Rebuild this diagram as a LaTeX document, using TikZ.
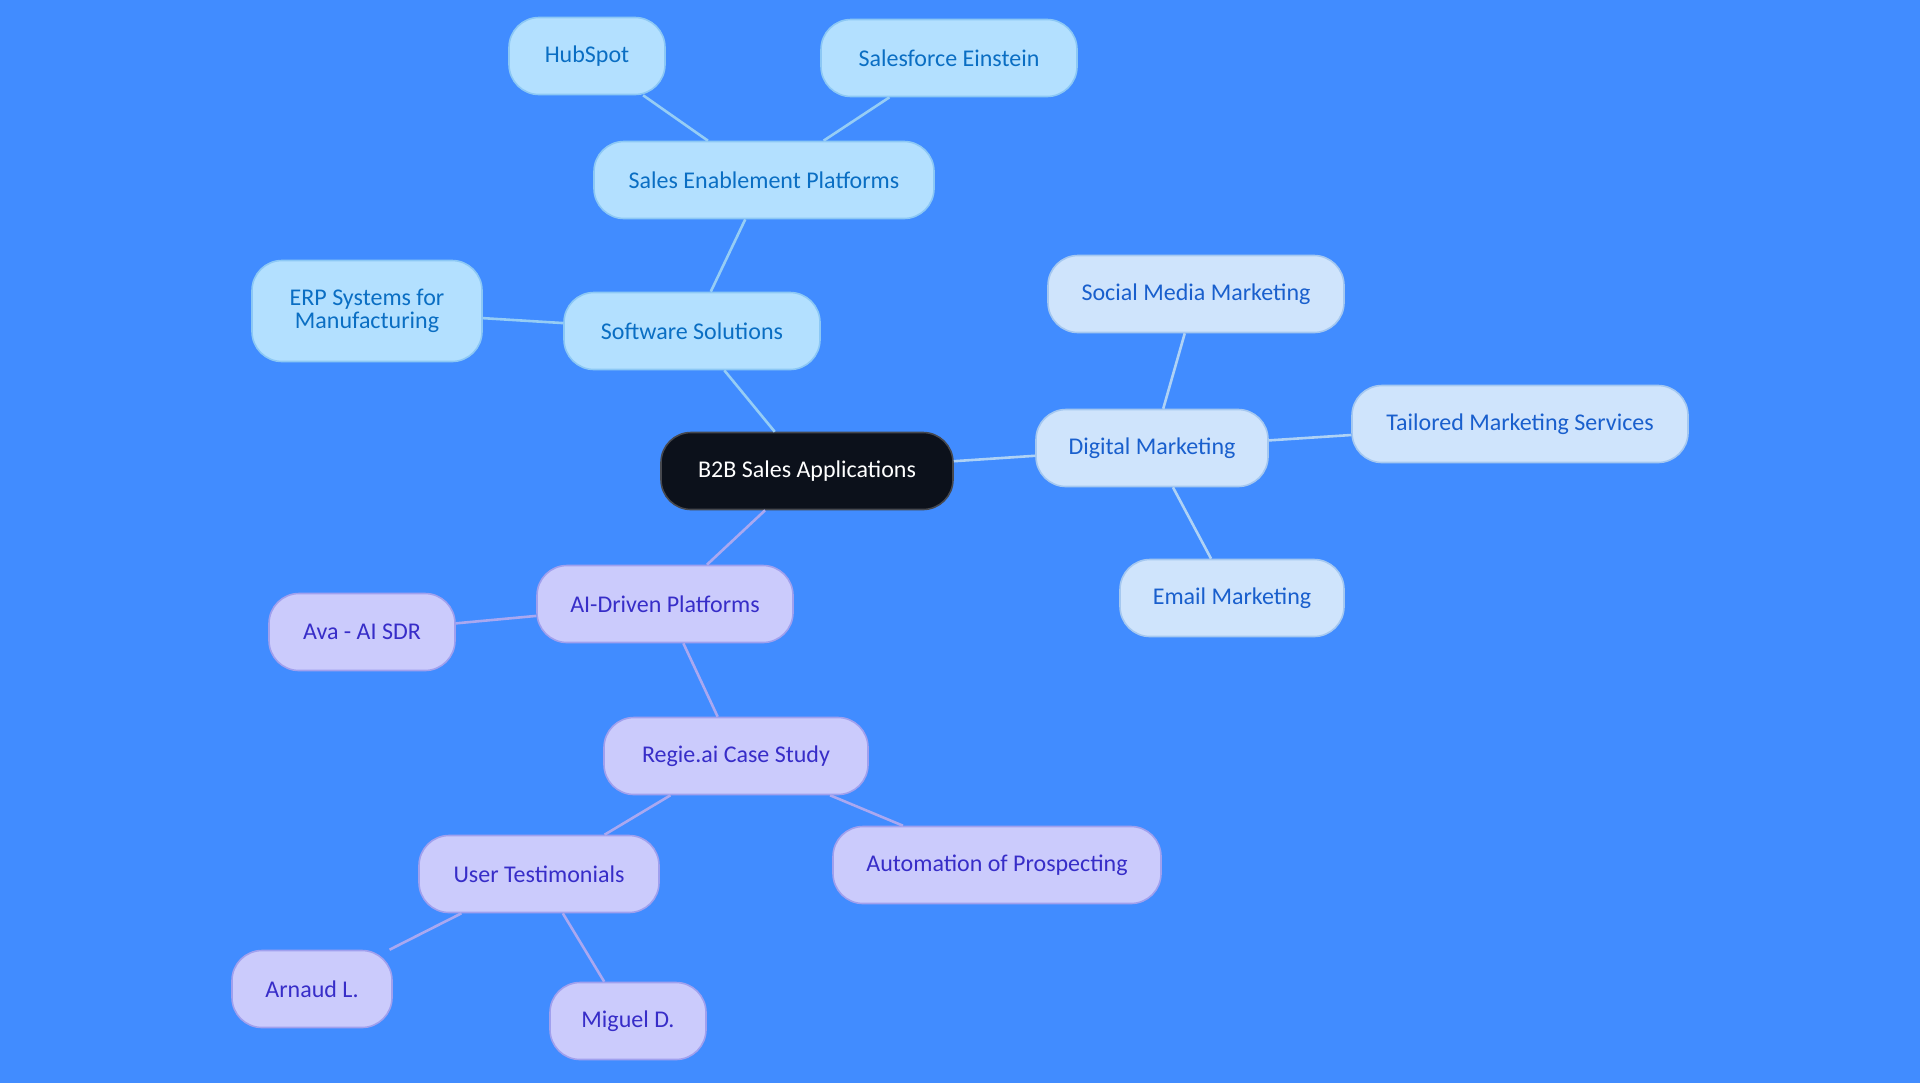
\documentclass[tikz,border=0pt]{standalone}
\usepackage{fontspec}
\setmainfont{Carlito}

\definecolor{bgblue}{RGB}{65,140,255}
\definecolor{rootfill}{RGB}{12,17,27}
\definecolor{rootline}{RGB}{70,72,78}
\definecolor{softfill}{RGB}{179,224,255}
\definecolor{softline}{RGB}{140,200,245}
\definecolor{softtext}{RGB}{10,110,195}
\definecolor{digifill}{RGB}{207,228,252}
\definecolor{digiline}{RGB}{165,200,240}
\definecolor{digitext}{RGB}{25,95,205}
\definecolor{aifill}{RGB}{203,203,252}
\definecolor{ailine}{RGB}{160,160,238}
\definecolor{aitext}{RGB}{55,45,200}
\definecolor{softwire}{RGB}{150,205,245}
\definecolor{digiwire}{RGB}{175,210,245}
\definecolor{aiwire}{RGB}{170,168,240}

\tikzset{
  topic/.style={rounded corners=15pt, minimum height=38.5pt, align=center,
                line width=0.8pt, font=\fontsize{12}{11.5}\selectfont, inner sep=2pt},
  rootbox/.style={topic, fill=rootfill, draw=rootline, text=white},
  softbox/.style={topic, fill=softfill, draw=softline, text=softtext},
  digibox/.style={topic, fill=digifill, draw=digiline, text=digitext},
  aibox/.style={topic, fill=aifill, draw=ailine, text=aitext},
  softedge/.style={draw=softwire, line width=1.3pt},
  digiedge/.style={draw=digiwire, line width=1.3pt},
  aiedge/.style={draw=aiwire, line width=1.3pt}
}

\begin{document}
\begin{tikzpicture}[x=0.5pt,y=-0.5pt]
	% background
	\fill[bgblue] (0,0) rectangle (1920,1083);
	\useasboundingbox (0,0) rectangle (1920,1083);

	% centre
	\node[rootbox, minimum width=146pt] (root) at (807,471) {B2B Sales Applications};

	% software branch
	\node[softbox, minimum width=128pt] (soft) at (692,331) {Software Solutions};
	\node[softbox, minimum width=170pt] (sales) at (764,180) {Sales Enablement Platforms};
	\node[softbox, minimum width=78pt] (hub) at (587,56) {HubSpot};
	\node[softbox, minimum width=128pt] (einstein) at (949,58) {Salesforce Einstein};
	\node[softbox, minimum width=115pt, minimum height=50.5pt] (erp) at (367,311) {ERP Systems for\\Manufacturing};

	% digital marketing branch
	\node[digibox, minimum width=116pt] (digital) at (1152,448) {Digital Marketing};
	\node[digibox, minimum width=148pt] (social) at (1196,294) {Social Media Marketing};
	\node[digibox, minimum width=168pt] (tailored) at (1520,424) {Tailored Marketing Services};
	\node[digibox, minimum width=112pt] (email) at (1232,598) {Email Marketing};

	% ai branch
	\node[aibox, minimum width=128pt] (ai) at (665,604) {AI-Driven Platforms};
	\node[aibox, minimum width=93pt] (ava) at (362,632) {Ava - AI SDR};
	\node[aibox, minimum width=132pt] (regie) at (736,756) {Regie.ai Case Study};
	\node[aibox, minimum width=120pt] (user) at (539,874) {User Testimonials};
	\node[aibox, minimum width=164pt] (auto) at (997,865) {Automation of Prospecting};
	\node[aibox, minimum width=80pt] (arnaud) at (312,989) {Arnaud L.};
	\node[aibox, minimum width=78pt] (miguel) at (628,1021) {Miguel D.};

	% connectors
	\draw[softedge] (root) -- (soft)
	                (soft) -- (sales)
	                (soft) -- (erp)
	                (sales) -- (hub)
	                (sales) -- (einstein);
	\draw[digiedge] (root) -- (digital)
	                (digital) -- (social)
	                (digital) -- (tailored)
	                (digital) -- (email);
	\draw[aiedge] (root) -- (ai)
	              (ai) -- (ava)
	              (ai) -- (regie)
	              (regie) -- (user)
	              (regie) -- (auto)
	              (user) -- (arnaud)
	              (user) -- (miguel);
\end{tikzpicture}
\end{document}
